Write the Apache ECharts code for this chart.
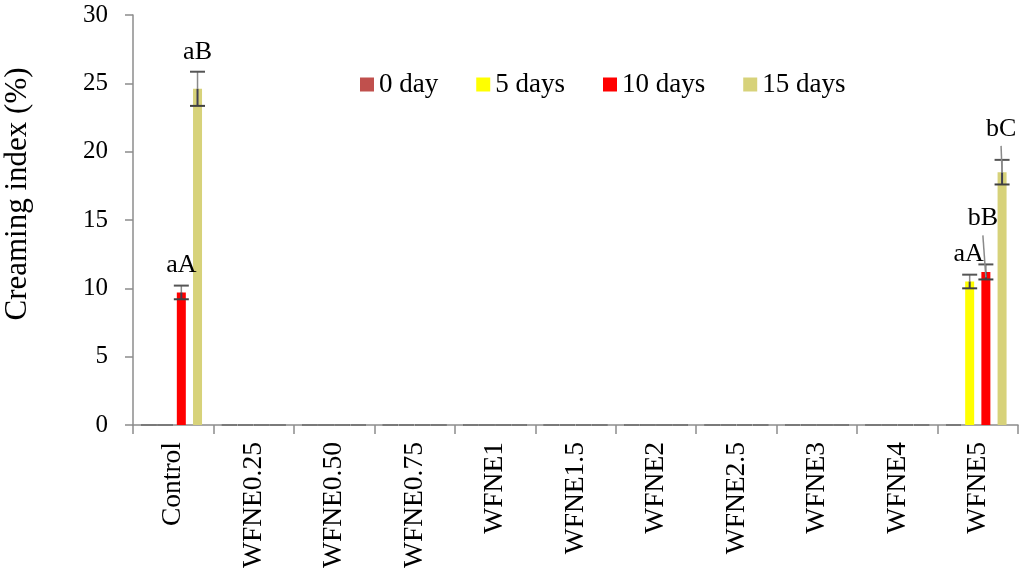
<!DOCTYPE html>
<html>
<head>
<meta charset="utf-8">
<script src="https://cdn.jsdelivr.net/npm/echarts@6/dist/echarts.min.js"></script>
<style>
  html, body { margin: 0; padding: 0; background: #fff; }
  #chart { width: 1021px; height: 573px; }
</style>
</head>
<body>
<div id="chart"></div>
<script>
// Creaming index of the emulsions over storage time
const categories = ['Control', 'WFNE0.25', 'WFNE0.50', 'WFNE0.75', 'WFNE1', 'WFNE1.5',
                    'WFNE2', 'WFNE2.5', 'WFNE3', 'WFNE4', 'WFNE5'];
const seriesNames = ['0 day', '5 days', '10 days', '15 days'];

const day0  = [0, 0, 0, 0, 0, 0, 0, 0, 0, 0, 0];
const day5  = [0, 0, 0, 0, 0, 0, 0, 0, 0, 0, 10.5];
const day10 = [9.7, 0, 0, 0, 0, 0, 0, 0, 0, 0, 11.2];
const day15 = [24.6, 0, 0, 0, 0, 0, 0, 0, 0, 0, 18.5];

// standard deviations
const err0  = [0, 0, 0, 0, 0, 0, 0, 0, 0, 0, 0];
const err5  = [0, 0, 0, 0, 0, 0, 0, 0, 0, 0, 0.5];
const err10 = [0.5, 0, 0, 0, 0, 0, 0, 0, 0, 0, 0.55];
const err15 = [1.25, 0, 0, 0, 0, 0, 0, 0, 0, 0, 0.9];

// significance letters: category index, series index, text
const letterCat    = [0, 0, 10, 10, 10];
const letterSeries = [2, 3, 1, 2, 3];
const letterText   = ['aA', 'aB', 'aA', 'bB', 'bC'];

const yTicks = { min: 0, max: 30, interval: 5 };
const yTitle = 'Creaming index (%)';

// ---- styling ----
const FONT = "'Liberation Serif', 'Times New Roman', serif";
const colors = ['#C0504D', '#FFFF00', '#FF0000', '#D7D27A'];
const BAR_W = 9;
const BAR_GAP = '80%';
// pixel placement of each letter relative to the top of its error bar
const letterPlacement = [
  { dx: 0, dy: -20, leader: false },
  { dx: 0, dy: -20, leader: false },
  { dx: -1, dy: -20, leader: false },
  { dx: -3, dy: -46, leader: true },
  { dx: -1, dy: -31, leader: true }
];

const values = [day0, day5, day10, day15];
const errors = [err0, err5, err10, err15];

const errData = [];
values.forEach((arr, s) => {
  arr.forEach((v, c) => errData.push([c, v, errors[s][c], s]));
});
const letterData = letterText.map((t, i) => {
  const s = letterSeries[i], c = letterCat[i];
  return [c, values[s][c], errors[s][c], s, i];
});

function barCenterX(api, cat, s) {
  const layout = api.barLayout({ count: 4, barWidth: BAR_W, barGap: BAR_GAP });
  return api.coord([cat, 0])[0] + layout[s].offsetCenter;
}

const chart = echarts.init(document.getElementById('chart'), null, { renderer: 'canvas' });

const barSeries = seriesNames.map((name, s) => ({
  name: name,
  type: 'bar',
  data: values[s],
  barWidth: BAR_W,
  barGap: BAR_GAP,
  itemStyle: { color: colors[s] },
  z: 2
}));

chart.setOption({
  animation: false,
  backgroundColor: '#ffffff',
  textStyle: { fontFamily: FONT },
  grid: { left: 133, right: 3, top: 15, bottom: 148, containLabel: false },
  graphic: [{
    type: 'text',
    x: 18,
    y: 194,
    rotation: Math.PI / 2,
    style: { text: yTitle, font: '31px ' + FONT, fill: '#000',
             align: 'center', verticalAlign: 'middle' }
  }],
  legend: {
    data: seriesNames,
    left: 355,
    top: 66,
    itemWidth: 14,
    itemHeight: 14,
    itemGap: 38,
    icon: 'rect',
    textStyle: { fontFamily: FONT, fontSize: 27, color: '#000' }
  },
  xAxis: {
    type: 'category',
    data: categories,
    axisLine: { lineStyle: { color: '#8c8c8c', width: 1.5 } },
    axisTick: { show: true, alignWithLabel: false, length: 9, lineStyle: { color: '#8c8c8c', width: 1.5 } },
    axisLabel: { rotate: 90, margin: 17, fontFamily: FONT, fontSize: 27.5, color: '#000', interval: 0 }
  },
  yAxis: {
    type: 'value',
    min: yTicks.min,
    max: yTicks.max,
    interval: yTicks.interval,
    splitLine: { show: false },
    axisLine: { show: true, lineStyle: { color: '#8c8c8c', width: 1.5 } },
    axisTick: { show: true, length: 8, lineStyle: { color: '#8c8c8c', width: 1.5 } },
    axisLabel: { margin: 25, fontFamily: FONT, fontSize: 25, color: '#000' }
  },
  series: barSeries.concat([
    {
      type: 'custom',
      name: 'error',
      data: errData,
      z: 5,
      silent: true,
      renderItem: function (params, api) {
        const c = api.value(0), v = api.value(1), e = api.value(2), s = api.value(3);
        const x = barCenterX(api, c, s);
        const yHi = api.coord([c, v + e])[1];
        const yLo = api.coord([c, v - e])[1];
        const yMid = api.coord([c, v])[1];
        const half = 7.5;
        return {
          type: 'group',
          children: [
            { type: 'line', shape: { x1: x, y1: yHi, x2: x, y2: yMid },
              style: { stroke: '#8a8a8a', lineWidth: 1.5 } },
            { type: 'line', shape: { x1: x, y1: yMid, x2: x, y2: yLo },
              style: { stroke: '#3f3f50', lineWidth: 2 } },
            { type: 'line', shape: { x1: x - half, y1: yHi, x2: x + half, y2: yHi },
              style: { stroke: '#555555', lineWidth: 2 } },
            { type: 'line', shape: { x1: x - half, y1: yLo, x2: x + half, y2: yLo },
              style: { stroke: e > 0 ? '#404040' : '#7a7a7a', lineWidth: 2 } }
          ]
        };
      }
    },
    {
      type: 'custom',
      name: 'letters',
      data: letterData,
      z: 6,
      silent: true,
      renderItem: function (params, api) {
        const c = api.value(0), v = api.value(1), e = api.value(2), s = api.value(3), i = api.value(4);
        const p = letterPlacement[i];
        const x = barCenterX(api, c, s);
        const yTop = api.coord([c, v + e])[1];
        const lx = x + p.dx, ly = yTop + p.dy;
        const children = [
          { type: 'text', x: lx, y: ly,
            style: { text: letterText[i], fill: '#000', font: '26px ' + FONT,
                     align: 'center', verticalAlign: 'middle' } }
        ];
        if (p.leader) {
          children.unshift({
            type: 'line',
            shape: { x1: lx, y1: ly + 17, x2: x, y2: yTop + 13 },
            style: { stroke: '#8a8a8a', lineWidth: 1.5 }
          });
        }
        return { type: 'group', children: children };
      }
    }
  ])
});
</script>
</body>
</html>
